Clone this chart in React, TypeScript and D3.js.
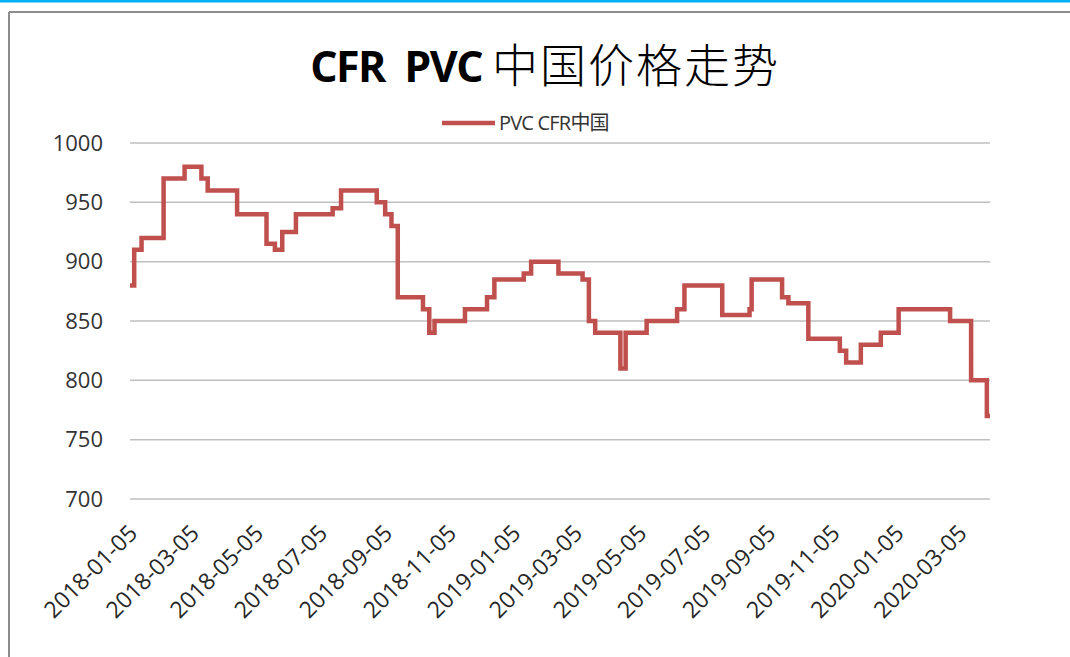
import React, { useEffect, useRef } from 'react';
import * as d3 from 'd3';

// step change points of the weekly price (USD/t)
const changeDates = [
  '2018-01-05', '2018-01-09', '2018-01-16', '2018-02-06', '2018-02-26', '2018-03-14',
  '2018-03-20', '2018-04-17', '2018-05-15', '2018-05-23', '2018-05-30', '2018-06-12',
  '2018-07-17', '2018-07-25', '2018-08-28', '2018-09-05', '2018-09-11', '2018-09-17',
  '2018-10-11', '2018-10-17', '2018-10-22', '2018-11-20', '2018-12-11', '2018-12-18',
  '2019-01-15', '2019-01-22', '2019-02-17', '2019-03-12', '2019-03-18', '2019-03-24',
  '2019-04-17', '2019-04-22', '2019-05-12', '2019-06-10', '2019-06-17', '2019-07-23',
  '2019-08-18', '2019-08-20', '2019-09-18', '2019-09-24', '2019-10-13', '2019-11-12',
  '2019-11-18', '2019-12-02', '2019-12-21', '2020-01-07', '2020-02-25', '2020-03-16',
  '2020-03-31', '2020-04-03'
];
const prices = [
  880, 910, 920, 970, 980, 970,
  960, 940, 915, 910, 925, 940,
  945, 960, 950, 940, 930, 870,
  860, 840, 850, 860, 870, 885,
  890, 900, 890, 885, 850, 840,
  810, 840, 850, 860, 880, 855,
  860, 885, 870, 865, 835, 825,
  815, 830, 840, 860, 850, 800,
  770, 770
];

const yTicks = [700, 750, 800, 850, 900, 950, 1000];
const xTickLabels = [
  '2018-01-05', '2018-03-05', '2018-05-05', '2018-07-05', '2018-09-05', '2018-11-05',
  '2019-01-05', '2019-03-05', '2019-05-05', '2019-07-05', '2019-09-05', '2019-11-05',
  '2020-01-05', '2020-03-05'
];

const titleLatin = 'CFR  PVC ';
const titleCjk = '中国价格走势';
const seriesName = 'PVC CFR中国';

const W = 1070;
const H = 657;

const App = () => {
  const svgRef = useRef(null);

  useEffect(() => {
    const svg = d3.select(svgRef.current);
    svg.selectAll('*').remove();

    const parse = d3.timeParse('%Y-%m-%d');
    const data = changeDates.map((d, i) => ({ date: parse(d), value: prices[i] }));

    const left = 130, right = 990, top = 143, bottom = 499;
    const x = d3.scaleTime()
      .domain([parse('2018-01-05'), parse('2020-04-03')])
      .range([left, right]);
    const y = d3.scaleLinear().domain([700, 1000]).range([bottom, top]);

    // page background and frame
    svg.append('rect').attr('width', W).attr('height', H).attr('fill', '#ffffff');
    svg.append('rect').attr('x', 0).attr('y', 0).attr('width', W).attr('height', 2.5).attr('fill', '#00b0f0');
    svg.append('line').attr('x1', 9).attr('y1', 12).attr('x2', 9).attr('y2', H)
      .attr('stroke', '#8c8c8c').attr('stroke-width', 2);
    svg.append('line').attr('x1', 9).attr('y1', 12).attr('x2', W).attr('y2', 12)
      .attr('stroke', '#8c8c8c').attr('stroke-width', 2);

    // title
    const title = svg.append('text')
      .attr('x', 545).attr('y', 82)
      .attr('text-anchor', 'middle')
      .attr('fill', '#000000');
    title.append('tspan')
      .attr('font-family', '"Open Sans", sans-serif')
      .attr('font-weight', 'bold')
      .attr('font-size', 43)
      .attr('letter-spacing', -1.5)
      .style('white-space', 'pre')
      .text(titleLatin);
    title.append('tspan')
      .attr('font-family', '"Noto Sans CJK SC", sans-serif')
      .attr('font-size', 46)
      .attr('font-weight', 300)
      .attr('letter-spacing', 2)
      .text(titleCjk);

    // legend
    svg.append('line')
      .attr('x1', 442).attr('x2', 495).attr('y1', 123).attr('y2', 123)
      .attr('stroke', '#c0504d').attr('stroke-width', 4.5);
    svg.append('text')
      .attr('x', 499).attr('y', 130)
      .attr('font-family', '"Open Sans", "Noto Sans CJK SC", sans-serif')
      .attr('font-size', 20)
      .attr('letter-spacing', -0.8)
      .attr('fill', '#333333')
      .text(seriesName);

    // gridlines
    svg.append('g')
      .selectAll('line')
      .data(yTicks)
      .enter()
      .append('line')
      .attr('x1', left).attr('x2', right)
      .attr('y1', d => y(d)).attr('y2', d => y(d))
      .attr('stroke', '#bfbfbf').attr('stroke-width', 1.5);

    // y labels
    svg.append('g')
      .selectAll('text')
      .data(yTicks)
      .enter()
      .append('text')
      .attr('x', 103)
      .attr('y', d => y(d))
      .attr('dy', '0.35em')
      .attr('text-anchor', 'end')
      .attr('font-family', '"Open Sans", sans-serif')
      .attr('font-size', 22)
      .attr('fill', '#333333')
      .text(d => d);

    // x labels
    svg.append('g')
      .selectAll('text')
      .data(xTickLabels)
      .enter()
      .append('text')
      .attr('transform', d => `translate(${x(parse(d)) + 3}, ${bottom + 30}) rotate(-45)`)
      .attr('dy', '0.35em')
      .attr('text-anchor', 'end')
      .attr('font-family', '"Open Sans", sans-serif')
      .attr('font-size', 23)
      .attr('fill', '#262626')
      .text(d => d);

    // price line
    const line = d3.line()
      .x(d => x(d.date))
      .y(d => y(d.value))
      .curve(d3.curveStepAfter);

    svg.append('path')
      .datum(data)
      .attr('d', line)
      .attr('fill', 'none')
      .attr('stroke', '#c0504d')
      .attr('stroke-width', 4.5)
      .attr('stroke-linejoin', 'miter');
  }, []);

  return (
    <div style={{ position: 'absolute', left: 0, top: 0 }}>
      <svg ref={svgRef} width={W} height={H} style={{ display: 'block' }}></svg>
    </div>
  );
};

export default App;
